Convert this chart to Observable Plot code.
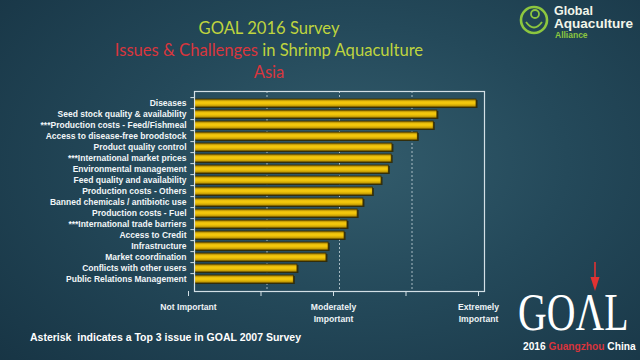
<!DOCTYPE html>
<html><head><meta charset="utf-8">
<script src="https://cdn.jsdelivr.net/npm/d3@7"></script>
<script src="https://cdn.jsdelivr.net/npm/@observablehq/plot@0.6"></script>
<style>
html,body{margin:0;padding:0;}
body{width:640px;height:360px;overflow:hidden;position:relative;
 background: radial-gradient(ellipse 75% 85% at 55% 45%, #335c6c 0%, #24495a 45%, #173444 100%);
 font-family:'Liberation Sans',Arial,sans-serif;}
.t{position:absolute;left:0;width:538px;text-align:center;font-family:Lato,'Open Sans',sans-serif;font-size:16.6px;line-height:20px;color:#bfd43e;}
.r{color:#d8363d;}
#chart{position:absolute;left:0;top:85px;}
#foot{position:absolute;left:30px;top:331px;color:#fff;font-weight:bold;font-size:10.5px;}
</style></head><body>
<div class="t" style="top:18px">GOAL 2016 Survey</div>
<div class="t" style="top:40px"><span class="r">Issues &amp; Challenges</span> in Shrimp Aquaculture</div>
<div class="t r" style="top:62px">Asia</div>

<svg style="position:absolute;left:505px;top:0px" width="135" height="45">
  <circle cx="29" cy="20" r="13" fill="none" stroke="#8cc63f" stroke-width="2.6"/>
  <circle cx="30" cy="14" r="4" fill="none" stroke="#8cc63f" stroke-width="1.8"/>
  <path d="M21 22 q8 11 16 0" fill="none" stroke="#8cc63f" stroke-width="1.8"/>
  <text x="49" y="15" fill="#f2f6ea" font-family="'Liberation Sans',Arial" font-weight="bold" font-size="12.5">Global</text>
  <text x="49" y="28" fill="#f2f6ea" font-family="'Liberation Sans',Arial" font-weight="bold" font-size="12" textLength="79" lengthAdjust="spacingAndGlyphs">Aquaculture</text>
  <text x="50" y="38" fill="#8cc63f" font-family="'Liberation Sans',Arial" font-weight="bold" font-size="8.5">Alliance</text>
</svg>

<svg style="position:absolute;left:505px;top:255px" width="135" height="105">
  <g transform="translate(13,75) scale(0.75,1)">
    <text x="0" y="0" fill="#fff" font-family="'Liberation Serif',serif" font-size="53">GOΛL</text>
  </g>
  <line x1="90" y1="7" x2="90" y2="30" stroke="#e23232" stroke-width="1.6"/>
  <path d="M85.5 22 L90 36 L94.5 22 Z" fill="#e23232"/>
  <text x="18" y="95" font-family="'Liberation Sans',Arial" font-weight="bold" font-size="10.2" fill="#fff">2016 <tspan fill="#d8343c">Guangzhou</tspan> China</text>
</svg>

<div id="chart"></div>
<div id="foot">Asterisk&nbsp; indicates a Top 3 issue in GOAL 2007 Survey</div>

<script>
const issues = [
  "Diseases",
  "Seed stock quality & availability",
  "***Production costs - Feed/Fishmeal",
  "Access to disease-free broodstock",
  "Product quality control",
  "***International market prices",
  "Environmental management",
  "Feed quality and availability",
  "Production costs - Others",
  "Banned chemicals / antibiotic use",
  "Production costs - Fuel",
  "***International trade barriers",
  "Access to Credit",
  "Infrastructure",
  "Market coordination",
  "Conflicts with other users",
  "Public Relations Management"
];
const scores = [4.89, 4.35, 4.30, 4.08, 3.73, 3.72, 3.68, 3.58, 3.46, 3.33, 3.25, 3.11, 3.07, 2.85, 2.82, 2.42, 2.37];
const xTicks = [1, 2, 3, 4, 5];
const xTickLabels = ["Not Important", "", "Moderately\nImportant", "", "Extremely\nImportant"];
const gridValues = [2, 3, 4];

const data = issues.map((name, i) => ({name, score: scores[i]}));
const step = 200 / (issues.length - 0.25 + 0.2);

const chart = Plot.plot({
  width: 640, height: 240,
  marginLeft: 194, marginRight: 156, marginTop: 6, marginBottom: 34,
  style: {background: "transparent", color: "#dfe9ee", fontFamily: "'Liberation Sans', Arial, sans-serif", fontWeight: "bold", fontSize: "8.5px", overflow: "visible"},
  x: {domain: [1, 5], label: null},
  y: {domain: issues, label: null, paddingInner: 0.25, paddingOuter: 0.1},
  marks: [
    Plot.ruleX(gridValues, {stroke: "#c9d8df", strokeDasharray: "2,2", strokeOpacity: 0.8}),
    Plot.barX(data, {x1: 1, x2: "score", y: "name", fill: "#2e2500", fillOpacity: 0.8, dx: 1.5, dy: 1}),
    Plot.barX(data, {x1: 1, x2: "score", y: "name", fill: "url(#gold)", stroke: "#3a2e00", strokeWidth: 0.8}),
    Plot.ruleY(issues, {y: d => d, x1: 0.95, x2: 1.0, dy: -step / 2, stroke: "#d3e0e6"}),
    Plot.frame({stroke: "#d3e0e6", strokeWidth: 1.2}),
    Plot.axisY({tickSize: 0, tickPadding: 8, fill: "#f2f6f8"}),
    Plot.axisX({ticks: xTicks, tickFormat: d => xTickLabels[xTicks.indexOf(d)], tickSize: 5, tickPadding: 6, fontSize: 8.6, lineHeight: 1.3, dx: -6, fill: "#eef3f6", stroke: "#d3e0e6"})
  ]
});
const defs = document.createElementNS("http://www.w3.org/2000/svg", "defs");
defs.innerHTML = `<linearGradient id="gold" x1="0" y1="0" x2="0" y2="1">
  <stop offset="0" stop-color="#8f6e00"/>
  <stop offset="0.35" stop-color="#f5c90e"/>
  <stop offset="0.6" stop-color="#f0c40a"/>
  <stop offset="1" stop-color="#a88300"/></linearGradient>`;
chart.insertBefore(defs, chart.firstChild);
document.getElementById("chart").appendChild(chart);
</script>
</body></html>
